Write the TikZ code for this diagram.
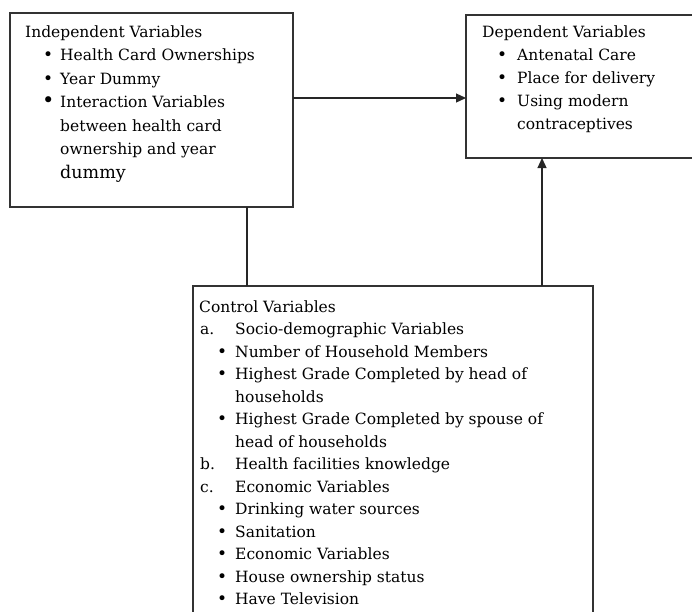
\documentclass[tikz,border=0pt]{standalone}
\usepackage{fontspec}
\setmainfont{DejaVu Serif}
\usetikzlibrary{arrows.meta}
\newcommand{\tl}[2]{\hbox{\hspace{#1}#2}}
\newcommand{\bl}[3]{\hbox{\hspace{#1}\makebox[0pt]{\fontsize{17}{20}\selectfont\textbullet}\hspace{\dimexpr#2-#1\relax}#3}}
\tikzset{
  box/.style={draw=black!80, line width=1.2pt, anchor=north west, inner sep=0pt, outer sep=0pt},
  txt/.style={anchor=base west, inner sep=0pt, font=\fontsize{15.5}{23}\selectfont},
  arr/.style={draw=black!85, line width=1.2pt, -{Triangle[length=10pt,width=9pt]}},
  conn/.style={draw=black!85, line width=1.2pt}
}
\begin{document}
\begin{tikzpicture}[x=1pt,y=1pt]
\useasboundingbox (0,0) rectangle (692,-611);
\node[box, minimum width=283pt, minimum height=194pt] (indep) at (10,-13) {};
\node[box, minimum width=240pt, minimum height=143pt] (dep) at (466,-15) {};
\node[box, minimum width=400pt, minimum height=340pt] (ctrl) at (193,-286) {};

\node[txt] (indeptext) at (25,-37) {\vtop{\baselineskip=23.5pt
  \tl{0pt}{Independent Variables}
  \bl{23pt}{35pt}{Health Card Ownerships}
  \bl{23pt}{35pt}{Year Dummy}
  \hbox{\hspace{23pt}\makebox[0pt]{\fontsize{21}{23}\selectfont\textbullet}\hspace{12pt}Interaction Variables}
  \tl{35pt}{between health card}
  \tl{35pt}{ownership and year}
  \tl{35pt}{\fontsize{17.5}{23}\selectfont dummy}}};

\node[txt] (deptext) at (482,-37) {\vtop{\baselineskip=23pt
  \tl{0pt}{Dependent Variables}
  \bl{20pt}{35pt}{Antenatal Care}
  \bl{20pt}{35pt}{Place for delivery}
  \bl{20pt}{35pt}{Using modern}
  \tl{35pt}{contraceptives}}};

\node[txt] (ctrltext) at (199,-312) {\vtop{\baselineskip=22.5pt
  \tl{0pt}{Control Variables}
  \hbox{\hspace{1pt}\makebox[35pt][l]{a.}Socio-demographic Variables}
  \bl{23pt}{36pt}{Number of Household Members}
  \bl{23pt}{36pt}{Highest Grade Completed by head of}
  \tl{36pt}{households}
  \bl{23pt}{36pt}{Highest Grade Completed by spouse of}
  \tl{36pt}{head of households}
  \hbox{\hspace{1pt}\makebox[35pt][l]{b.}Health facilities knowledge}
  \hbox{\hspace{1pt}\makebox[35pt][l]{c.}Economic Variables}
  \bl{23pt}{36pt}{Drinking water sources}
  \bl{23pt}{36pt}{Sanitation}
  \bl{23pt}{36pt}{Economic Variables}
  \bl{23pt}{36pt}{House ownership status}
  \bl{23pt}{36pt}{Have Television}}};

\draw[arr] ([yshift=12pt]indep.east) -- ([yshift=-11.5pt]dep.west);
\draw[conn] ([xshift=95.5pt]indep.south) -- ([xshift=95.5pt]indep.south |- ctrl.north);
\draw[arr] ([xshift=149pt]ctrl.north) -- ([xshift=149pt]ctrl.north |- dep.south);
\end{tikzpicture}
\end{document}
